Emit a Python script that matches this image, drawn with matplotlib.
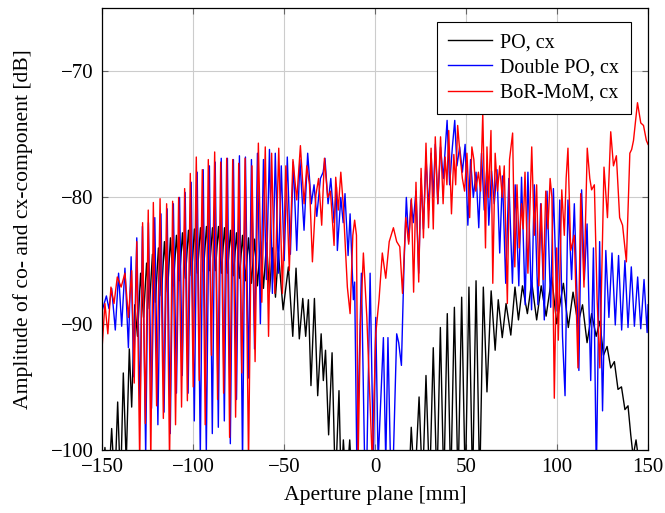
import matplotlib
matplotlib.use("Agg")
import matplotlib.pyplot as plt
import numpy as np

plt.rcParams['font.family'] = 'serif'
plt.rcParams['font.serif'] = ['Liberation Serif', 'DejaVu Serif']
plt.rcParams['mathtext.fontset'] = 'stix'

# aperture position [mm], amplitude [dB]  (peaks / nulls of the cx-component)
po_pts = [
    (-150.0, -103), (-148.4, -99.8), (-146.5, -103), (-144.7, -98.3), (-143.0, -103),
    (-141.4, -96.2), (-139.8, -103), (-138.3, -93.9), (-136.7, -101), (-135.0, -92.0),
    (-133.7, -96.6), (-132.0, -88.5), (-130.5, -91.0), (-128.8, -86.0), (-127.2, -89.5),
    (-125.5, -85.2), (-124.0, -88.8), (-122.3, -84.5), (-120.7, -88.3), (-119.0, -84.0),
    (-117.4, -87.8), (-115.7, -83.5), (-114.0, -87.5), (-112.4, -83.2), (-110.8, -87.0),
    (-109.1, -83.0), (-107.5, -86.6), (-105.8, -82.8), (-104.2, -86.4), (-102.5, -82.6),
    (-100.9, -86.2), (-99.2, -82.5), (-97.6, -86.0), (-95.9, -82.4), (-94.3, -85.9),
    (-92.6, -82.3), (-91.0, -85.8), (-89.3, -82.4), (-87.7, -85.8), (-86.0, -82.3),
    (-84.4, -86.0), (-82.7, -82.4), (-81.1, -86.0), (-79.4, -82.6), (-77.8, -86.2),
    (-76.1, -82.8), (-74.5, -86.4), (-72.8, -83.0), (-71.2, -86.6), (-69.5, -83.2),
    (-67.9, -86.8), (-66.2, -83.3), (-64.6, -87.0), (-62.9, -83.5), (-61.3, -87.2),
    (-59.6, -83.6), (-58.0, -87.5), (-56.3, -84.0), (-54.7, -87.9), (-53.1, -84.4),
    (-50.5, -88.9), (-47.6, -85.5), (-45.2, -91.0), (-43.4, -85.6), (-41.6, -91.2),
    (-39.7, -88.0), (-38.1, -91.0), (-36.6, -88.1), (-35.2, -94.9), (-33.3, -88.0),
    (-31.5, -95.7), (-29.6, -90.8), (-28.4, -94.5), (-27.2, -92.1), (-25.5, -98.8),
    (-23.6, -92.3), (-21.8, -103), (-19.8, -95.3), (-18.6, -103), (-17.4, -99.2),
    (-15.8, -103), (-13.9, -99.2), (-12.5, -103), (18.5, -103), (19.9, -98.2),
    (21.8, -103), (24.2, -95.8), (26.1, -103), (28.0, -94.1), (30.0, -103),
    (32.0, -91.9), (34.0, -103), (35.9, -90.3), (37.8, -103), (39.7, -89.2),
    (41.6, -103), (43.6, -88.7), (45.6, -103), (47.6, -87.9), (49.6, -103),
    (51.6, -87.1), (53.6, -103), (55.5, -86.6), (57.5, -103), (59.5, -87.1),
    (61.5, -95.4), (63.8, -87.4), (66.0, -92.1), (67.7, -88.1), (69.9, -91.1),
    (72.0, -88.4), (74.6, -90.9), (76.9, -87.1), (78.8, -89.7), (81.0, -87.0),
    (83.7, -89.2), (86.1, -86.7), (88.8, -89.7), (91.3, -87.0), (94.0, -89.4),
    (97.1, -86.3), (99.8, -90.0), (103.5, -86.8), (106.2, -90.3), (108.8, -87.5),
    (111.5, -90.0), (114.0, -88.5), (116.5, -91.5), (119.0, -89.2), (121.5, -91.0),
    (123.5, -89.8), (125.5, -92.5), (127.5, -91.8), (129.5, -93.5), (131.5, -93.0),
    (133.5, -95.2), (135.4, -95.0), (137.3, -96.8), (139.0, -96.5), (140.5, -98.8),
    (141.8, -100.5), (143.4, -99.2), (145.0, -101), (147.0, -103), (150.0, -103),
]

dpo_pts = [
    (-150.0, -89.0), (-147.6, -87.8), (-146.2, -88.8), (-144.7, -87.2), (-142.7, -90.5),
    (-140.9, -86.0), (-139.2, -90.2), (-137.4, -85.6), (-135.5, -91.9), (-134.0, -84.7),
    (-132.6, -94.2), (-130.9, -83.2), (-129.1, -96.9), (-127.8, -82.3), (-126.0, -100.5),
    (-124.5, -82.0), (-122.8, -96.7), (-121.0, -81.6), (-119.3, -98.0), (-117.6, -81.3),
    (-115.9, -97.0), (-114.2, -80.9), (-112.5, -98.7), (-110.8, -80.5), (-109.1, -95.5),
    (-107.4, -80.0), (-105.9, -94.1), (-104.3, -79.6), (-102.7, -95.5), (-101.0, -78.8),
    (-99.3, -97.7), (-97.7, -78.0), (-96.0, -100.5), (-94.4, -77.8), (-92.7, -100.3),
    (-91.0, -77.5), (-89.4, -98.7), (-87.8, -77.2), (-86.1, -98.2), (-84.5, -76.9),
    (-82.8, -97.7), (-81.1, -76.9), (-79.5, -99.5), (-77.8, -77.0), (-76.1, -96.0),
    (-74.5, -76.7), (-72.8, -101.0), (-71.2, -76.8), (-69.5, -94.3), (-67.9, -77.0),
    (-66.2, -92.0), (-64.6, -76.5), (-63.0, -90.0), (-61.3, -77.0), (-59.7, -86.5),
    (-58.0, -76.2), (-56.4, -87.6), (-54.8, -76.5), (-53.1, -86.0), (-51.5, -77.5),
    (-49.9, -85.0), (-48.2, -76.8), (-46.5, -84.5), (-44.9, -77.2), (-43.0, -84.2),
    (-41.3, -77.0), (-39.0, -82.6), (-37.0, -76.5), (-35.0, -80.5), (-33.5, -79.0),
    (-32.0, -81.5), (-30.0, -78.5), (-28.5, -78.0), (-27.5, -76.9), (-25.8, -80.5),
    (-24.3, -78.5), (-22.5, -82.0), (-21.2, -79.2), (-20.7, -84.2), (-18.8, -80.0),
    (-17.5, -82.0), (-16.5, -79.7), (-14.8, -84.6), (-13.7, -81.3), (-11.9, -88.1),
    (-11.2, -86.7), (-10.0, -101.0), (-7.5, -86.0), (-5.7, -101.0), (-4.5, -101.0),
    (-2.7, -86.0), (-0.9, -101.0), (0.4, -89.5), (1.7, -101.0), (4.6, -91.1),
    (5.9, -101.0), (7.1, -91.1), (8.5, -101.0), (10.0, -101.0), (11.9, -90.8),
    (13.0, -91.5), (14.5, -93.3), (15.9, -85.5), (17.2, -80.0), (18.5, -83.5),
    (19.8, -80.2), (21.0, -82.0), (22.5, -79.5), (24.0, -86.0), (25.3, -78.5),
    (26.6, -82.5), (28.0, -76.8), (29.5, -81.0), (30.8, -76.5), (32.0, -80.0),
    (33.1, -75.8), (34.5, -80.5), (36.0, -76.0), (37.5, -78.5), (39.6, -73.9),
    (41.0, -79.0), (42.5, -76.0), (43.8, -73.9), (45.0, -77.5), (46.5, -76.0),
    (48.0, -78.0), (49.5, -75.8), (51.0, -82.2), (52.5, -77.0), (54.0, -80.0),
    (55.5, -78.0), (57.0, -82.4), (58.5, -76.5), (60.0, -81.0), (61.5, -77.5),
    (62.5, -82.2), (64.0, -77.9), (65.5, -80.5), (67.0, -77.8), (68.5, -84.4),
    (70.0, -78.3), (71.8, -86.8), (73.5, -78.5), (75.5, -86.8), (77.0, -79.0),
    (79.0, -87.0), (80.5, -78.4), (82.5, -88.5), (84.0, -78.0), (86.0, -88.9),
    (87.5, -79.0), (89.5, -88.5), (91.0, -80.5), (93.0, -89.7), (94.5, -79.5),
    (96.5, -88.7), (98.0, -79.3), (100.0, -89.0), (101.5, -80.2), (103.0, -91.0),
    (104.4, -95.7), (106.0, -80.2), (108.0, -86.5), (109.5, -80.5), (111.0, -88.0),
    (112.0, -93.7), (113.5, -79.4), (115.0, -86.5), (116.5, -82.1), (118.5, -94.5),
    (120.0, -84.0), (121.6, -102.0), (123.4, -83.5), (125.0, -96.9), (126.8, -84.2),
    (128.5, -89.5), (130.2, -84.4), (132.0, -90.1), (133.8, -84.6), (135.5, -90.5),
    (137.3, -85.0), (139.0, -90.3), (140.8, -85.5), (142.5, -90.2), (144.3, -86.3),
    (146.0, -90.4), (147.8, -86.5), (149.5, -90.7), (150.0, -88.5),
]

mom_pts = [
    (-150.0, -92.0), (-148.4, -88.4), (-146.8, -90.8), (-145.1, -87.1), (-143.4, -88.4),
    (-141.6, -86.3), (-139.5, -87.1), (-137.4, -86.0), (-135.5, -89.5), (-133.7, -85.8),
    (-132.3, -94.7), (-130.9, -83.5), (-129.3, -101), (-127.7, -82.0), (-126.2, -97.9),
    (-124.6, -81.0), (-123.2, -101), (-121.8, -80.4), (-120.0, -96.5), (-118.1, -80.1),
    (-116.3, -97.5), (-114.5, -80.5), (-112.9, -101), (-111.2, -80.3), (-109.6, -98.0),
    (-107.9, -80.0), (-106.3, -96.6), (-104.6, -79.3), (-103.1, -96.1), (-101.5, -78.1),
    (-99.9, -95.0), (-98.2, -76.8), (-96.6, -94.5), (-94.9, -77.8), (-93.3, -98.0),
    (-91.6, -77.0), (-89.9, -92.5), (-88.1, -76.4), (-86.5, -96.0), (-84.8, -77.2),
    (-83.2, -95.5), (-81.5, -76.9), (-79.9, -99.0), (-78.2, -77.0), (-76.6, -97.4),
    (-74.9, -77.3), (-73.2, -93.9), (-71.4, -76.9), (-69.5, -101), (-67.6, -77.5),
    (-65.9, -93.0), (-64.1, -75.7), (-62.2, -88.3), (-60.3, -76.0), (-58.5, -91.0),
    (-56.8, -76.5), (-55.0, -87.6), (-52.9, -76.1), (-50.9, -87.6), (-49.0, -77.5),
    (-47.1, -85.8), (-45.1, -77.0), (-43.0, -80.2), (-41.0, -75.9), (-39.0, -80.5),
    (-37.5, -77.5), (-36.0, -79.0), (-34.4, -85.1), (-32.5, -79.8), (-31.0, -78.5),
    (-29.3, -82.2), (-27.8, -76.9), (-26.0, -80.0), (-24.5, -79.5), (-22.5, -83.8),
    (-21.6, -78.4), (-20.2, -81.0), (-18.8, -78.0), (-17.5, -80.5), (-15.2, -87.1),
    (-13.7, -89.2), (-12.2, -83.0), (-11.2, -81.8), (-10.2, -83.0), (-9.3, -101),
    (-8.0, -90.0), (-6.4, -84.4), (-4.5, -89.5), (-2.4, -97.5), (-1.5, -101),
    (0.4, -90.8), (2.2, -88.1), (4.0, -84.4), (5.9, -86.4), (7.8, -83.5),
    (10.1, -82.4), (11.9, -83.5), (13.6, -83.9), (15.1, -87.6), (16.9, -81.6),
    (18.5, -83.7), (20.0, -80.1), (21.2, -87.5), (22.5, -78.8), (24.0, -86.7),
    (25.3, -77.7), (26.6, -83.2), (28.0, -75.7), (29.4, -82.4), (30.8, -76.1),
    (32.0, -82.5), (33.1, -75.2), (34.5, -80.5), (36.0, -75.2), (37.4, -80.5),
    (38.5, -76.8), (39.5, -79.0), (40.5, -74.7), (42.0, -81.3), (43.3, -76.6),
    (44.3, -79.0), (45.4, -74.3), (46.8, -76.8), (48.0, -78.5), (49.2, -79.5),
    (50.5, -76.5), (52.0, -81.6), (53.2, -76.0), (54.3, -77.0), (55.3, -79.5),
    (56.8, -78.0), (58.0, -79.5), (59.2, -73.3), (60.7, -84.0), (61.5, -76.0),
    (62.4, -80.0), (63.7, -74.7), (64.7, -86.8), (66.0, -76.5), (67.3, -79.5),
    (68.5, -77.5), (69.9, -80.0), (71.0, -77.5), (72.7, -88.4), (73.9, -77.0),
    (75.6, -74.9), (76.8, -85.5), (78.0, -79.0), (79.2, -84.0), (80.5, -80.5),
    (81.4, -82.5), (82.4, -78.0), (84.0, -86.0), (86.1, -76.0), (87.5, -83.0),
    (88.8, -79.0), (90.0, -87.0), (91.3, -80.5), (92.5, -86.5), (93.8, -79.5),
    (95.0, -82.5), (96.2, -78.5), (97.2, -80.0), (98.5, -95.9), (99.8, -84.0),
    (100.7, -91.3), (102.6, -79.4), (104.0, -83.0), (105.0, -78.5), (106.0, -76.1),
    (107.5, -84.2), (109.5, -83.0), (111.5, -93.5), (113.0, -79.7), (114.8, -87.1),
    (116.6, -76.1), (118.0, -78.5), (119.0, -79.4), (120.5, -79.0), (122.0, -88.0),
    (123.5, -93.5), (125.8, -77.6), (127.7, -81.6), (129.5, -74.8), (131.0, -77.5),
    (132.6, -76.7), (134.4, -81.6), (136.0, -82.2), (138.1, -85.1), (140.0, -76.5),
    (141.0, -76.2), (142.0, -75.5), (144.2, -72.5), (146.0, -74.1), (147.5, -74.3),
    (149.1, -75.5), (150.0, -75.8),
]

labels = ["PO, cx", "Double PO, cx", "BoR-MoM, cx"]
colors = ["black", "blue", "red"]

xticks = [-150, -100, -50, 0, 50, 100, 150]
yticks = [-100, -90, -80, -70]


def main():
    fig = plt.figure(figsize=(6.65, 5.13), dpi=100)
    ax = fig.add_axes([0.1534, 0.1228, 0.8211, 0.8616])

    for pts, lab, col in zip([po_pts, dpo_pts, mom_pts], labels, colors):
        xy = np.array(pts)
        ax.plot(xy[:, 0], xy[:, 1], color=col, linewidth=1.0, label=lab)

    ax.set_xlim(-150, 150)
    ax.set_ylim(-100, -65)
    ax.set_xticks(xticks)
    ax.set_yticks(yticks)
    ax.grid(True, color="#cccccc", linewidth=0.8)
    ax.set_axisbelow(True)
    ax.tick_params(direction="in", length=4, width=0.8, color="#666666",
                   top=True, right=True, labelsize=15, pad=6)
    for sp in ax.spines.values():
        sp.set_linewidth(0.9)

    ax.set_xlabel("Aperture plane [mm]", fontsize=15.6, labelpad=6)
    ax.set_ylabel("Amplitude of co- and cx-component [dB]", fontsize=15.6, labelpad=13)

    # legend box sits a little in from the right spine
    leg = ax.legend(loc="upper right", bbox_to_anchor=(0.968, 0.968), fontsize=14.5,
                    fancybox=False, framealpha=1, edgecolor="black",
                    handlelength=2.2, labelspacing=0.3, borderpad=0.55,
                    handletextpad=0.4, borderaxespad=0)
    leg.get_frame().set_linewidth(0.8)

    plt.savefig("out.png", dpi=100)
    print("save : out.png")
    return 0


if __name__ == "__main__":
    main()
